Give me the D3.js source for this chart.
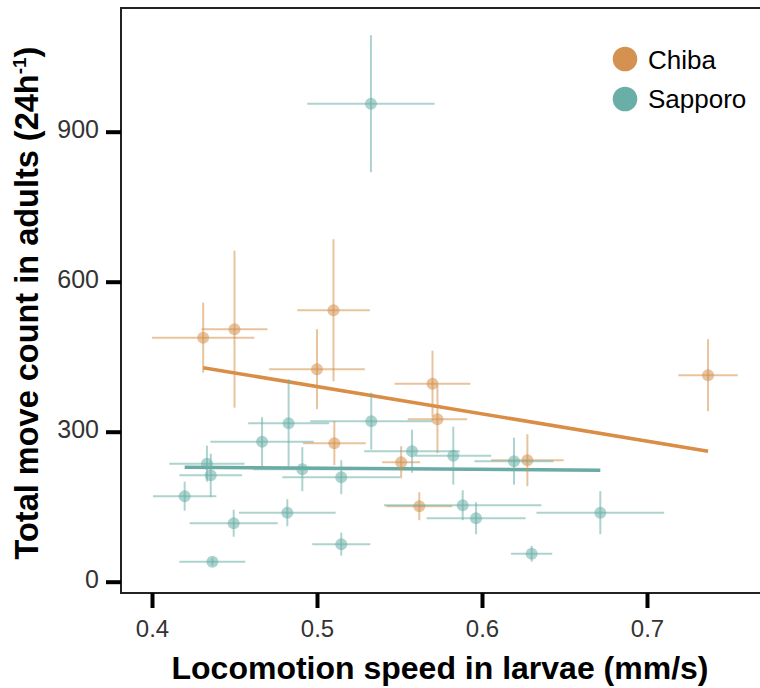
<!DOCTYPE html>
<html>
<head>
<meta charset="utf-8">
<script src="https://cdn.jsdelivr.net/npm/d3@7"></script>
<style>
  html, body { margin: 0; padding: 0; background: #fff; }
  svg { display: block; font-family: "Liberation Sans", Arial, Helvetica, sans-serif; }
</style>
</head>
<body>
<svg id="chart" width="760" height="688"></svg>
<script>
// ---------- data ----------
const seriesNames = ["Chiba", "Sapporo"];

const chibaX    = [0.431, 0.450, 0.510, 0.500, 0.570, 0.573, 0.5105, 0.551, 0.562, 0.6275, 0.737];
const chibaY    = [488, 505, 543, 425, 396, 325, 277, 239, 151, 243, 413];
const chibaXErr = [0.031, 0.020, 0.022, 0.029, 0.023, 0.018, 0.019, 0.0115, 0.020, 0.022, 0.018];
const chibaYErr = [70, 157, 142, 80, 66, 68, 44, 32, 28, 52, 72];

const sapporoX    = [0.5327, 0.4828, 0.5329, 0.4667, 0.4333, 0.4356, 0.4911, 0.5147, 0.4198, 0.482,
                     0.4495, 0.5147, 0.4366, 0.5576, 0.5826, 0.6194, 0.5883, 0.5964, 0.6717, 0.6301];
const sapporoY    = [956, 317, 321, 280, 236, 213, 225, 209, 171, 138,
                     117, 75, 40, 261, 252, 241, 153, 127, 138, 56];
const sapporoXErr = [0.0386, 0.0245, 0.037, 0.0313, 0.0228, 0.019, 0.030, 0.0357, 0.0192, 0.0293,
                     0.0267, 0.0176, 0.020, 0.029, 0.023, 0.024, 0.0477, 0.030, 0.0387, 0.0125];
const sapporoYErr = [137, 88, 57, 49, 36, 43, 44, 34, 29, 27,
                     27, 23, 8, 43, 58, 47, 30, 32, 43, 16];

// fitted regression lines (endpoints)
const chibaFitX   = [0.431, 0.737];
const chibaFitY   = [428, 261];
const sapporoFitX = [0.4198, 0.6717];
const sapporoFitY = [229, 223];

const xTicks = [0.4, 0.5, 0.6, 0.7];
const yTicks = [0, 300, 600, 900];

// ---------- layout ----------
const colors = { Chiba: "#d5914f", Sapporo: "#6aaea8" };
const lineColors = { Chiba: "#d98d45", Sapporo: "#6aaba5" };
const panel = { left: 121, top: 8, right: 762, bottom: 593 };

const svg = d3.select("#chart");

const x = d3.scaleLinear().domain([0.4, 0.7]).range([152, 647]);
const y = d3.scaleLinear().domain([0, 900]).range([581.7, 131.7]);

function rows(xs, ys, xe, ye) {
  return xs.map((v, i) => ({ x: v, y: ys[i], xe: xe[i], ye: ye[i] }));
}
const series = [
  { name: "Chiba", pts: rows(chibaX, chibaY, chibaXErr, chibaYErr), fit: chibaFitX.map((v, i) => [v, chibaFitY[i]]) },
  { name: "Sapporo", pts: rows(sapporoX, sapporoY, sapporoXErr, sapporoYErr), fit: sapporoFitX.map((v, i) => [v, sapporoFitY[i]]) }
];

// regression lines
const line = d3.line().x(d => x(d[0])).y(d => y(d[1]));
series.forEach(s => {
  svg.append("path")
    .attr("d", line(s.fit))
    .attr("fill", "none")
    .attr("stroke", lineColors[s.name])
    .attr("stroke-width", 3.5);
});

// error bars and points
series.forEach(s => {
  const g = svg.append("g");
  const c = colors[s.name];
  g.selectAll("line.h").data(s.pts).join("line")
    .attr("x1", d => x(d.x - d.xe)).attr("x2", d => x(d.x + d.xe))
    .attr("y1", d => y(d.y)).attr("y2", d => y(d.y))
    .attr("stroke", c).attr("stroke-opacity", 0.55).attr("stroke-width", 2);
  g.selectAll("line.v").data(s.pts).join("line")
    .attr("x1", d => x(d.x)).attr("x2", d => x(d.x))
    .attr("y1", d => y(d.y - d.ye)).attr("y2", d => y(d.y + d.ye))
    .attr("stroke", c).attr("stroke-opacity", 0.55).attr("stroke-width", 2);
  g.selectAll("circle").data(s.pts).join("circle")
    .attr("cx", d => x(d.x)).attr("cy", d => y(d.y)).attr("r", 6)
    .attr("fill", c).attr("fill-opacity", 0.55);
});

// panel border
svg.append("rect")
  .attr("x", panel.left).attr("y", panel.top)
  .attr("width", panel.right - panel.left).attr("height", panel.bottom - panel.top)
  .attr("fill", "none").attr("stroke", "#222").attr("stroke-width", 2);

// axes
const xAxis = svg.append("g").attr("transform", `translate(0,${panel.bottom})`)
  .call(d3.axisBottom(x).tickValues(xTicks).tickSize(15).tickFormat(d3.format(".1f")));
xAxis.select(".domain").remove();
xAxis.selectAll(".tick line").attr("stroke", "#000").attr("stroke-width", 4);
xAxis.selectAll(".tick text")
  .attr("y", 43.7).attr("dy", null)
  .attr("font-size", 24).attr("fill", "#333").attr("font-family", "Liberation Sans, Arial, sans-serif");

const yAxis = svg.append("g").attr("transform", `translate(${panel.left},0)`)
  .call(d3.axisLeft(y).tickValues(yTicks).tickSize(15));
yAxis.select(".domain").remove();
yAxis.selectAll(".tick line").attr("stroke", "#000").attr("stroke-width", 4);
yAxis.selectAll(".tick text")
  .attr("x", -22).attr("dy", 6)
  .attr("font-size", 25).attr("fill", "#333").attr("font-family", "Liberation Sans, Arial, sans-serif");

// axis titles
svg.append("text")
  .attr("x", 440).attr("y", 679)
  .attr("text-anchor", "middle")
  .attr("font-size", 32).attr("font-weight", "bold").attr("fill", "#000")
  .text("Locomotion speed in larvae (mm/s)");

const yt = svg.append("text")
  .attr("transform", "translate(38,303) rotate(-90)")
  .attr("text-anchor", "middle")
  .attr("font-size", 32.5).attr("font-weight", "bold").attr("fill", "#000");
yt.append("tspan").text("Total move count in adults (24h");
yt.append("tspan").attr("font-size", 19).attr("dy", -12).text("-1");
yt.append("tspan").attr("dy", 12).text(")");

// legend
const leg = svg.append("g");
seriesNames.forEach((n, i) => {
  leg.append("circle").attr("cx", 625).attr("cy", 59 + i * 40).attr("r", 12.3).attr("fill", colors[n]);
  leg.append("text").attr("x", 648).attr("y", 69 + i * 39)
    .attr("font-size", 26).attr("fill", "#000").text(n);
});
</script>
</body>
</html>
